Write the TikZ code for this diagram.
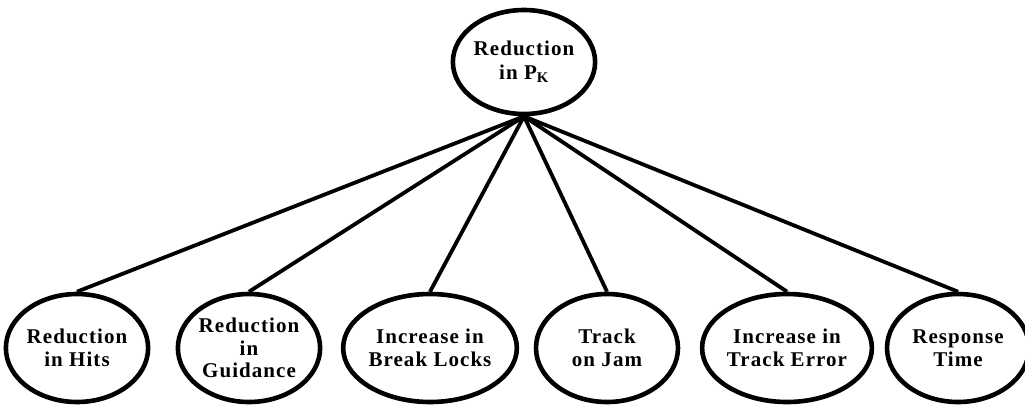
\documentclass[tikz,border=0pt]{standalone}
\usepackage{fontspec}
\setmainfont{Liberation Serif}[LetterSpace=5]
\usetikzlibrary{shapes.geometric}
\begin{document}
\begin{tikzpicture}[x=1pt,y=-1pt,
  goal/.style={ellipse, draw, line width=4.6pt, inner sep=0pt,
    minimum width=142pt, minimum height=108pt, align=center,
    font=\fontsize{21}{22.5}\selectfont\bfseries},
  link/.style={line width=3.8pt}]
\useasboundingbox (0,0) rectangle (1025,405);
\node[goal, minimum width=136pt, minimum height=104pt,
  font=\fontsize{21}{24}\selectfont\bfseries] (top) at (524,62)
  {Reduction\\in P\textsubscript{K}};
\node[goal] (b1) at (77,348) {Reduction\\in Hits};
\node[goal] (b2) at (249,348) {Reduction\\in\\Guidance};
\node[goal] (b3) at (430,348) {Increase in\\Break Locks};
\node[goal] (b4) at (607,348) {Track\\on Jam};
\node[goal] (b5) at (787,348) {Increase in\\Track Error};
\node[goal] (b6) at (958,348) {Response\\Time};
\foreach \n in {b1,b2,b3,b4,b5,b6}
  \draw[link] (top.south) -- (\n.north);
\end{tikzpicture}
\end{document}
